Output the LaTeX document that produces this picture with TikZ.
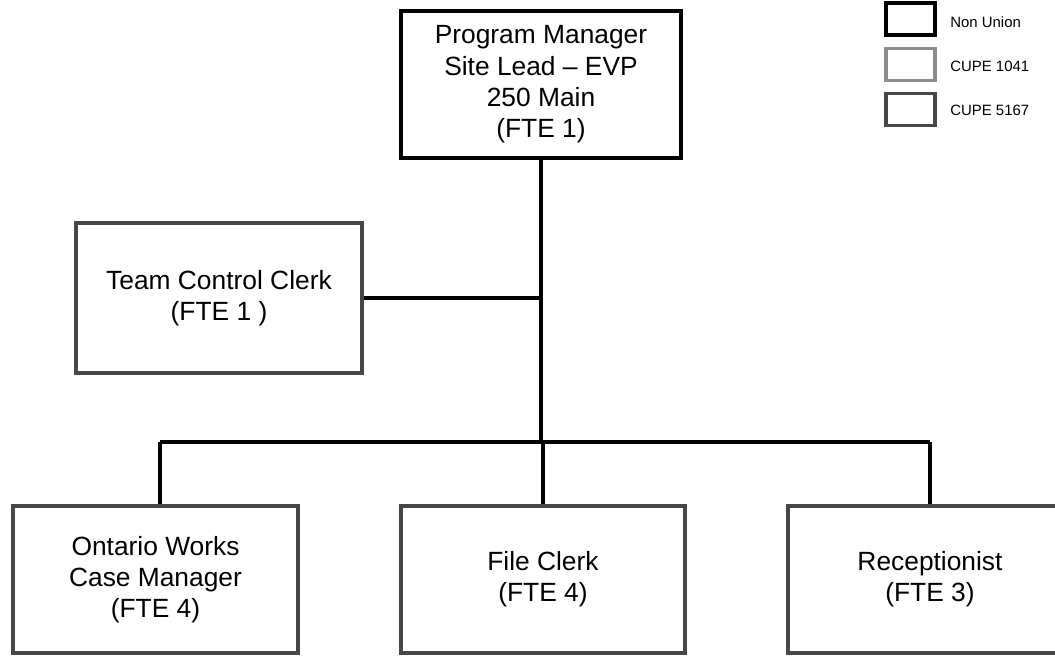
\documentclass[tikz,border=0pt]{standalone}
\usepackage{fontspec}
\setmainfont{Liberation Sans}
\usetikzlibrary{calc}

\tikzset{
	nonunion/.style={draw=black,line width=2.2pt,fill=white,align=center,inner sep=0pt},
	cupeA/.style={draw=black!45,line width=2.2pt,fill=white,align=center,inner sep=0pt},
	cupeB/.style={draw=black!72,line width=2.2pt,fill=white,align=center,inner sep=0pt},
	link/.style={draw=black,line width=2pt},
	legtext/.style={anchor=west,inner sep=0pt,font=\fontsize{8.5}{10}\selectfont}
}

\begin{document}
\begin{tikzpicture}[x=0.02cm,y=-0.02cm,font=\fontsize{15}{17.8}\selectfont]
		% page is 1055 x 656 units, y runs downwards
		\clip (0,0) rectangle (1055,656);
		\fill[white] (0,0) rectangle (1055,656);
		
		% manager and clerk
		\node[nonunion,minimum width=5.6cm,minimum height=2.94cm] (pm) at (541,84.5)
		{Program Manager\\Site Lead -- EVP\\250 Main\\(FTE 1)};
		\node[cupeB,minimum width=5.72cm,minimum height=3cm] (tcc) at (219,298)
		{Team Control Clerk\\(FTE 1 )};
		
		% staff row
		\node[cupeB,minimum width=5.7cm,minimum height=2.94cm] (ow) at (155.5,579.5)
		{Ontario Works\\Case Manager\\(FTE 4)};
		\node[cupeB,minimum width=5.68cm,minimum height=2.94cm] (fc) at (543,579.5)
		{File Clerk\\(FTE 4)};
		\node[cupeB,minimum width=5.68cm,minimum height=2.94cm] (rec) at (930,579.5)
		{Receptionist\\(FTE 3)};
		
		% lines between boxes
		\coordinate (bus) at (541,442);
		\coordinate (owtop) at ($(ow.north)+(4.5,0)$);
		\draw[link] (pm.south) -- (bus);
		\draw[link] (tcc.east) -- (pm.south |- tcc.east);
		\draw[link] (owtop |- bus) -- (rec.north |- bus);
		\draw[link] (owtop) -- (owtop |- bus);
		\draw[link] (fc.north) -- (fc.north |- bus);
		\draw[link] (rec.north) -- (rec.north |- bus);
		
		% legend
		\node[nonunion,minimum width=0.98cm,minimum height=0.64cm] (keyA) at (910.5,19) {};
		\node[cupeA,minimum width=0.98cm,minimum height=0.64cm] (keyB) at (910.5,64.5) {};
		\node[cupeB,minimum width=0.98cm,minimum height=0.64cm] (keyC) at (910.5,109.5) {};
		\node[legtext] (keyAtext) at (950,22) {Non Union};
		\node[legtext] (keyBtext) at (950,66) {CUPE 1041};
		\node[legtext] (keyCtext) at (950,110) {CUPE 5167};
	\end{tikzpicture}
\end{document}
